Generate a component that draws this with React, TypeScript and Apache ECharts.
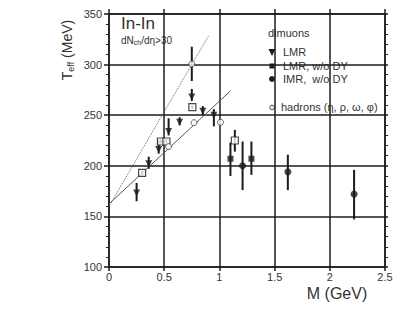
import React, { useEffect, useRef } from "react";
import * as echarts from "echarts";

// Axis ranges
const xMin = 0, xMax = 2.5, xStep = 0.5;
const yMin = 100, yMax = 350, yStep = 50;

// LMR (down triangles with error stems)
const lmrM = [0.25, 0.36, 0.45, 0.54, 0.64, 0.75, 0.85, 0.95];
const lmrT = [173, 202, 216, 234, 243, 268, 254, 250];
const lmrLo = [165, 197, 212, 230, 240, 264, 250, 239];
const lmrHi = [183, 209, 226, 247, 248, 276, 259, 256];

// LMR w/o DY (open squares)
const lmrNoDyM = [0.3, 0.47, 0.52, 0.755, 1.14];
const lmrNoDyT = [193, 224, 224, 258, 225];
const lmrNoDyLo = [191, 222, 222, 256, 214];
const lmrNoDyHi = [195, 226, 226, 260, 235.5];

// filled squares
const sqM = [1.1, 1.29];
const sqT = [207, 207];
const sqLo = [190, 191];
const sqHi = [223, 224];

// IMR w/o DY (filled circles)
const imrM = [1.21, 1.62, 2.22];
const imrT = [200, 194, 172];
const imrLo = [176, 176, 147];
const imrHi = [224, 211, 196];

// hadrons (open circles)
const hadM = [0.54, 0.77, 0.75, 1.01];
const hadT = [219, 242.6, 300.6, 243];
const hadLo = [219, 242.6, 283.8, 243];
const hadHi = [219, 242.6, 317.7, 243];

// fit lines
const solidLine = [[0, 162.3], [1.1, 274]];
const dottedLine = [[0, 160], [0.905, 329]];

const INK = "#1c1c1c";
const TXT = "#333";
const FONT = "Liberation Sans, Arial, sans-serif";

function errSeries(name: string, M: number[], lo: number[], hi: number[]) {
  return {
    type: "custom",
    name,
    silent: true,
    z: 3,
    renderItem: (_p: any, api: any) => {
      const a = api.coord([api.value(0), api.value(1)]);
      const b = api.coord([api.value(0), api.value(2)]);
      return {
        type: "line",
        shape: { x1: a[0], y1: a[1], x2: b[0], y2: b[1] },
        style: { stroke: INK, lineWidth: 2 },
      };
    },
    encode: { x: 0, y: [1, 2] },
    data: M.map((m, i) => [m, lo[i], hi[i]]),
  };
}

function pts(M: number[], T: number[]) {
  return M.map((m, i) => [m, T[i]]);
}

export default function App() {
  const ref = useRef<HTMLDivElement>(null);
  useEffect(() => {
    const chart = echarts.init(ref.current!, null, { renderer: "svg" });
    const axisLine = { show: true, onZero: false, lineStyle: { color: INK, width: 1.5 } };
    const option: any = {
      animation: false,
      backgroundColor: "#fff",
      textStyle: { fontFamily: FONT },
      grid: { left: 109, top: 14, width: 276, height: 253 },
      xAxis: [
        {
          type: "value", min: xMin, max: xMax, interval: xStep, position: "bottom",
          axisLine,
          axisTick: { show: true, length: 4, lineStyle: { color: INK, width: 1.5 } },
          axisLabel: {
            show: true, margin: 4, color: TXT, fontSize: 11, fontFamily: FONT,
            formatter: (v: number) => String(v),
          },
          splitLine: { show: true, lineStyle: { color: INK, width: 1.5 } },
        },
        {
          type: "value", min: xMin, max: xMax, interval: xStep, position: "top",
          axisLine,
          axisTick: { show: true, length: 5, lineStyle: { color: INK, width: 1.5 } },
          axisLabel: { show: false },
          splitLine: { show: false },
        },
      ],
      yAxis: [
        {
          type: "value", min: yMin, max: yMax, interval: yStep, position: "left",
          axisLine,
          axisTick: { show: true, length: 5, lineStyle: { color: INK, width: 1.5 } },
          minorTick: { show: true, splitNumber: 5, length: 3, lineStyle: { color: INK, width: 1 } },
          axisLabel: { show: true, margin: 7, color: TXT, fontSize: 11, fontFamily: FONT },
          splitLine: { show: true, lineStyle: { color: INK, width: 1.5 } },
        },
        {
          type: "value", min: yMin, max: yMax, interval: yStep, position: "right",
          axisLine,
          axisTick: { show: true, length: 3, lineStyle: { color: INK, width: 1.5 } },
          minorTick: { show: true, splitNumber: 5, length: 3, lineStyle: { color: INK, width: 1 } },
          axisLabel: { show: false },
          splitLine: { show: false },
        },
      ],
      series: [
        {
          type: "line", name: "fit", data: solidLine, showSymbol: false, symbol: "none", z: 2,
          lineStyle: { color: "#555", width: 1 },
        },
        {
          type: "line", name: "fit2", data: dottedLine, showSymbol: false, symbol: "none", z: 2,
          lineStyle: { color: "#666", width: 1, type: "dotted" },
        },
        errSeries("lmrErr", lmrM, lmrLo, lmrHi),
        errSeries("lmrNoDyErr", lmrNoDyM, lmrNoDyLo, lmrNoDyHi),
        errSeries("sqErr", sqM, sqLo, sqHi),
        errSeries("imrErr", imrM, imrLo, imrHi),
        errSeries("hadErr", hadM, hadLo, hadHi),
        {
          type: "scatter", name: "LMR", data: pts(lmrM, lmrT), z: 4,
          symbol: "triangle", symbolRotate: 180, symbolSize: 7,
          itemStyle: { color: INK },
        },
        {
          type: "scatter", name: "LMR, w/o DY", data: pts(lmrNoDyM, lmrNoDyT), z: 4,
          symbol: "rect", symbolSize: 7,
          itemStyle: { color: "#fff", borderColor: INK, borderWidth: 1.2 },
        },
        {
          type: "scatter", name: "sq", data: pts(sqM, sqT), z: 4,
          symbol: "rect", symbolSize: 6,
          itemStyle: { color: INK },
        },
        {
          type: "scatter", name: "IMR, w/o DY", data: pts(imrM, imrT), z: 4,
          symbol: "circle", symbolSize: 7,
          itemStyle: { color: INK },
        },
        {
          type: "scatter", name: "hadrons", data: pts(hadM, hadT), z: 4,
          symbol: "circle", symbolSize: 6,
          itemStyle: { color: "#fff", borderColor: "#444", borderWidth: 1 },
        },
      ],
      graphic: [
        {
          type: "text", x: 121, y: 23,
          style: { text: "In-In", fontSize: 17, fill: TXT, fontFamily: FONT, verticalAlign: "middle" },
        },
        {
          type: "text", x: 121, y: 40,
          style: {
            text: "{a|dN}{s|ch}{a|/dη>30}", fill: TXT, verticalAlign: "middle",
            rich: {
              a: { fontSize: 10, fontFamily: FONT, fill: TXT },
              s: { fontSize: 7, fontFamily: FONT, fill: TXT, padding: [5, 0, 0, 0] },
            },
          },
        },
        {
          type: "text", x: 67, y: 50, rotation: Math.PI / 2,
          style: {
            text: "{a|T}{s|eff}{a| (MeV)}", align: "center", verticalAlign: "middle",
            rich: {
              a: { fontSize: 14, fontFamily: FONT, fill: TXT },
              s: { fontSize: 9, fontFamily: FONT, fill: TXT, padding: [7, 0, 0, 0] },
            },
          },
        },
        {
          type: "text", x: 337, y: 293,
          style: { text: "M (GeV)", fontSize: 16, fill: TXT, fontFamily: FONT, align: "center", verticalAlign: "middle" },
        },
        // legend
        {
          type: "text", x: 268, y: 33,
          style: { text: "dimuons", fontSize: 11, fill: TXT, fontFamily: FONT, verticalAlign: "middle" },
        },
        {
          type: "polygon", shape: { points: [[268.5, 49], [275.5, 49], [272, 56]] },
          style: { fill: INK },
        },
        {
          type: "text", x: 283, y: 52,
          style: { text: "LMR", fontSize: 11, fill: TXT, fontFamily: FONT, verticalAlign: "middle" },
        },
        {
          type: "rect", shape: { x: 269.5, y: 63.5, width: 5, height: 5 },
          style: { fill: INK },
        },
        {
          type: "text", x: 283, y: 66,
          style: { text: "LMR, w/o DY", fontSize: 11, fill: TXT, fontFamily: FONT, verticalAlign: "middle" },
        },
        {
          type: "circle", shape: { cx: 272, cy: 79, r: 3 },
          style: { fill: INK },
        },
        {
          type: "text", x: 283, y: 79,
          style: { text: "IMR,  w/o DY", fontSize: 11, fill: TXT, fontFamily: FONT, verticalAlign: "middle" },
        },
        {
          type: "circle", shape: { cx: 272, cy: 107.5, r: 2.3 },
          style: { fill: "#fff", stroke: "#444", lineWidth: 1 },
        },
        {
          type: "text", x: 281, y: 107,
          style: { text: "hadrons (η, ρ, ω, φ)", fontSize: 11, fill: TXT, fontFamily: FONT, verticalAlign: "middle" },
        },
      ],
    };
    chart.setOption(option);
    return () => chart.dispose();
  }, []);
  return (
    <div
      ref={ref}
      style={{ position: "fixed", left: 0, top: 0, width: 409, height: 332, background: "#fff" }}
    />
  );
}
